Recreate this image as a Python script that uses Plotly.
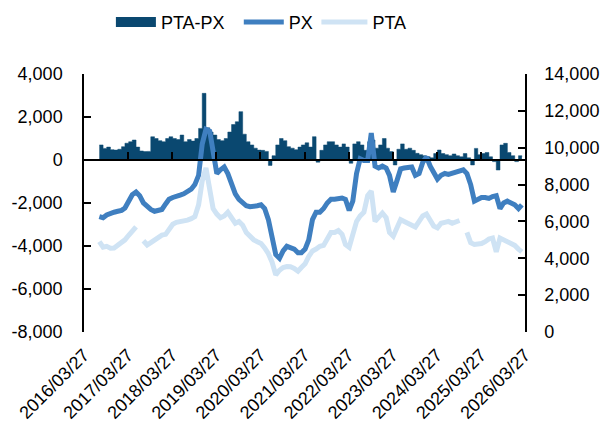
import pandas as pd
import plotly.graph_objects as go

# monthly points, Aug 2016 -> Mar 2026
dates = pd.date_range("2016-08-01", periods=116, freq="MS")

px_price = [6.26, 6.2, 6.35, 6.45, 6.5, 6.55, 6.6, 6.73, 7.1, 7.45,
            7.6, 7.4, 7.0, 6.8, 6.65, 6.55, 6.6, 6.65, 6.95, 7.2,
            7.3, 7.4, 7.43, 7.5, 7.6, 7.75, 8.0, 8.5, 10.2, 11.0,
            10.9, 9.6, 8.6, 8.8, 8.95, 8.6, 8.1, 7.5, 7.2, 7.0,
            6.85, 6.8, 6.8, 6.85, 6.9, 6.7, 6.1, 5.2, 4.2, 4.0,
            4.4, 4.65, 4.6, 4.5, 4.3, 4.3, 4.5, 5.0, 6.1, 6.5,
            6.5, 6.7, 7.0, 7.2, 7.2, 7.25, 7.27, 7.2, 6.6, 7.1,
            8.6, 9.4, 9.3, 9.3, 10.8, 9.0, 8.9, 9.0, 8.9, 8.5,
            7.6, 8.2, 8.85, 8.9, 8.9, 8.95, 8.5, 8.6, 9.2, 9.5,
            9.0, 8.6, 8.3, 8.5, 8.6, 8.55, 8.6, 8.7, 8.75, 8.8,
            8.6, 8.0, 7.1, 7.2, 7.3, 7.3, 7.25, 7.35, 7.4, 6.7,
            7.0, 7.1, 7.0, 6.9, 6.7, 6.9]
px_price = [v * 1000 for v in px_price]

pta_price = [4.9, 4.6, 4.65, 4.55, 4.56, 4.7, 4.85, 5.0, 5.25, 5.45,
             5.7, None, 4.95, 4.72, 4.85, 5.0, 5.15, 5.26, 5.3, 5.55,
             5.85, 5.95, 5.98, 6.0, 6.07, 6.15, 6.26, 6.9, 8.2, 8.9,
             7.6, 6.7, 6.4, 6.2, 6.3, 6.5, 6.2, 5.9, 6.0, 5.8,
             5.4, 5.15, 5.0, 4.9, 4.8, 4.56, 4.25, 3.8, 3.1, 3.35,
             3.5, 3.55, 3.54, 3.45, 3.3, 3.5, 3.7, 4.1, 4.4, 4.5,
             4.65, 4.7, 5.0, 5.4, 5.4, 5.5, 5.3, 4.75, 4.6, 5.3,
             6.0, 6.3, 6.5, 7.4, 7.65, 6.0, 6.2, 6.45, 6.2, 5.4,
             5.2, 5.6, 6.1, 6.0, 5.9, 5.8, 5.7, 6.0, 6.3, 6.4,
             6.1, 5.75, 5.65, 5.9, 5.95, 6.0, 5.9, 6.0, 6.05, None,
             5.4, 4.85, 4.75, 4.75, 4.8, 4.9, 5.05, 5.1, 4.35, 5.1,
             5.0, 4.85, 4.8, 4.7, 4.5, 4.35]
pta_price = [None if v is None else v * 1000 for v in pta_price]

spread = [700, 540, 600, 480, 460, 500, 620, 780, 850, 930,
          600, 420, 390, 400, 1080, 1000, 900, 850, 1000, 1080,
          1000, 950, 1160, 850, 950, 880, 1000, 1470, 3100, 1500,
          1300, 1160, 950, 900, 1000, 1300, 1650, 1780, 2250, 1200,
          850, 700, 550, 460, 450, 400, -250, 200, 700, 1000,
          900, 620, 550, 480, 600, 700, 800, 600, 1085, -100,
          450, 700, 850, 850, 700, 600, 750, 600, -150, 750,
          850, 700, 450, 850, 930, 550, 700, 1000, 550, 390,
          -230, 500, 750, 500, 550, 450, 310, 250, 200, 150,
          100, 300, 465, 300, 250, 200, 280, 200, 150, 300,
          100, -230, 540, 250, 300, 350, 150, -75, -465, 700,
          775, 350, 200, -75, 200, 150]

x_ticks = ["2016-03-27", "2017-03-27", "2018-03-27", "2019-03-27", "2020-03-27",
           "2021-03-27", "2022-03-27", "2023-03-27", "2024-03-27", "2025-03-27",
           "2026-03-27"]
x_labels = [d.replace("-", "/") for d in x_ticks]
left_ticks = [-8000, -6000, -4000, -2000, 0, 2000, 4000]
left_labels = ["-8,000", "-6,000", "-4,000", "-2,000", "0", "2,000", "4,000"]
right_ticks = [0, 2000, 4000, 6000, 8000, 10000, 12000, 14000]
right_labels = ["0", "2,000", "4,000", "6,000", "8,000", "10,000", "12,000", "14,000"]

navy = "#0a4870"
mid = "#3f7fc0"
light = "#cfe3f4"
font = dict(family="Liberation Sans, Arial, sans-serif", size=18, color="#000000")

fig = go.Figure()
fig.add_trace(go.Scatter(x=dates, y=spread, mode="lines", line=dict(color=navy, width=0.5, shape="hv"),
                         fill="tozeroy", fillcolor=navy, xaxis="x", yaxis="y", showlegend=False))
# legend entry for the spread (wide box)
fig.add_trace(go.Scatter(x=[None], y=[None], mode="lines", line=dict(color=navy, width=16),
                         name="PTA-PX", xaxis="x", yaxis="y", legend="legend"))
fig.add_trace(go.Scatter(x=dates, y=px_price, mode="lines", line=dict(color=mid, width=5),
                         name="PX", xaxis="x", yaxis="y2", legend="legend2"))
fig.add_trace(go.Scatter(x=dates, y=pta_price, mode="lines", line=dict(color=light, width=5),
                         name="PTA", xaxis="x", yaxis="y2", legend="legend3"))
# invisible trace that carries the zero-line axis
fig.add_trace(go.Scatter(x=[None], y=[None], mode="lines", xaxis="x2", yaxis="y",
                         showlegend=False, hoverinfo="skip"))

xr = [x_ticks[0], x_ticks[-1]]
axis_style = dict(ticks="inside", ticklen=7, tickwidth=1.5, tickcolor="black",
                  showline=True, linecolor="black", linewidth=1.5, showgrid=False, zeroline=False)
leg = dict(orientation="h", yanchor="middle", y=1.2, xanchor="left",
           font=font, bgcolor="rgba(0,0,0,0)")

# page body has an 8px margin, so the figure is shifted by 8px
fig.update_layout(
    width=606, height=427,
    margin=dict(l=76, r=89, t=66, b=103, autoexpand=False),
    paper_bgcolor="white", plot_bgcolor="white",
    font=font,
    xaxis=dict(type="date", range=xr, tickvals=x_ticks, ticktext=x_labels, tickangle=-45,
               showline=False, showgrid=False, zeroline=False, ticks="", ticklabelstandoff=8),
    xaxis2=dict(type="date", range=xr, overlaying="x", anchor="free", position=2 / 3,
                tickvals=x_ticks, showticklabels=False, **axis_style),
    yaxis=dict(range=[-8000, 4000], tickvals=left_ticks, ticktext=left_labels,
               ticklabelstandoff=16, **axis_style),
    yaxis2=dict(range=[0, 14000], tickvals=right_ticks, ticktext=right_labels,
                overlaying="y", side="right", anchor="x", ticklabelstandoff=14, **axis_style),
    legend=dict(x=0.061, itemwidth=40, **leg),
    legend2=dict(x=0.351, itemwidth=40, **leg),
    legend3=dict(x=0.527, itemwidth=46, **leg),
)

fig.write_html("out.html")
